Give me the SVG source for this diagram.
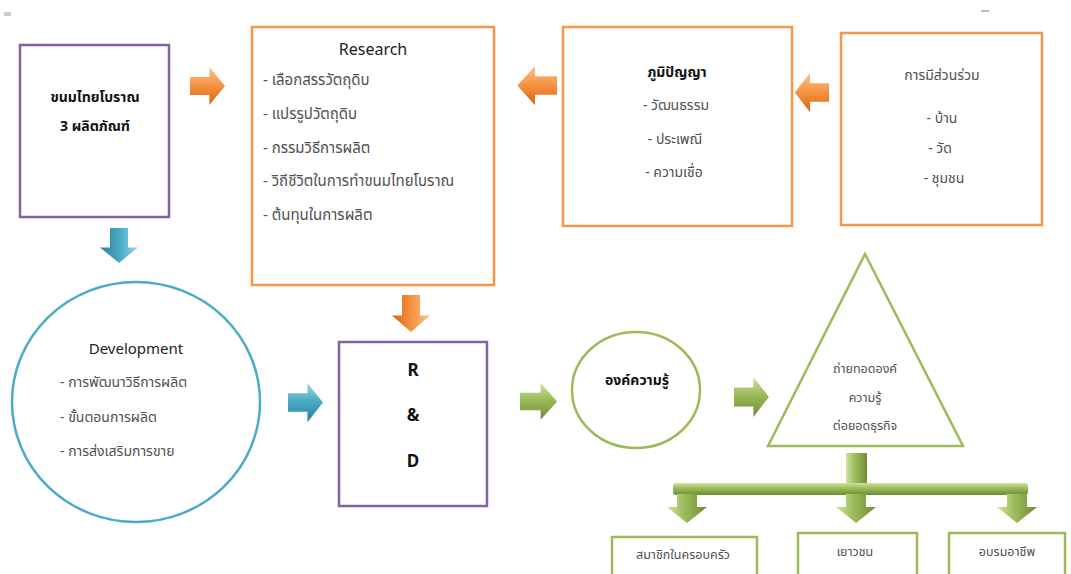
<svg xmlns="http://www.w3.org/2000/svg" width="1071" height="574" viewBox="0 0 1071 574">
<style>
.pb{fill:#fff;stroke:#8064A2;stroke-width:2.5}
.ob{fill:#fff;stroke:#F79646;stroke-width:2.5}
.bb{fill:#fff;stroke:#4BACC6;stroke-width:2.5}
.gb{fill:#fff;stroke:#9BBB59;stroke-width:2.5}
text{font-family:"Noto Sans","Noto Sans Thai","Liberation Sans",sans-serif}
.t{font-size:14px;fill:#111;font-weight:bold;text-anchor:middle}
.h{font-size:16px;fill:#222;text-anchor:middle}
.i{font-size:15px;fill:#505050}
.d{font-size:14px;fill:#505050}
.c{font-size:14px;fill:#505050;text-anchor:middle}
.s{font-size:12.5px;fill:#505050;text-anchor:middle}
.rd{font-size:17px;fill:#111;font-weight:bold;text-anchor:middle}
</style>
<defs>
<linearGradient id="gO" x1="0" y1="0" x2="0" y2="1"><stop offset="0" stop-color="#FBC38F"/><stop offset="0.45" stop-color="#F79646"/><stop offset="1" stop-color="#D9650A"/></linearGradient>
<linearGradient id="gB" x1="0" y1="0" x2="0" y2="1"><stop offset="0" stop-color="#9ED6E6"/><stop offset="0.45" stop-color="#4BACC6"/><stop offset="1" stop-color="#2E7F96"/></linearGradient>
<linearGradient id="gG" x1="0" y1="0" x2="0" y2="1"><stop offset="0" stop-color="#CFE29E"/><stop offset="0.45" stop-color="#9BBB59"/><stop offset="1" stop-color="#6F8C34"/></linearGradient>
<linearGradient id="gGh" x1="0" y1="0" x2="1" y2="0"><stop offset="0" stop-color="#CFE29E"/><stop offset="0.45" stop-color="#9BBB59"/><stop offset="1" stop-color="#6F8C34"/></linearGradient>
<path id="ar" d="M0,10 H20 V0 L36,19 L20,38 V28 H0 Z"/>
</defs>

<rect x="4" y="12" width="7" height="4" fill="#ccc"/>
<rect x="981" y="10" width="8" height="2" fill="#bbb"/>

<g id="node-khanom">
<rect class="pb" x="20" y="45" width="149" height="172"/>
<text class="t" x="95" y="102">ขนมไทยโบราณ</text>
<text class="t" x="95" y="131">3 ผลิตภัณฑ์</text>
</g>

<g id="node-research">
<rect class="ob" x="252" y="27" width="242" height="258"/>
<text class="h" x="373" y="55">Research</text>
<text class="i" x="263" y="85">- เลือกสรรวัตถุดิบ</text>
<text class="i" x="263" y="119">- แปรรูปวัตถุดิบ</text>
<text class="i" x="263" y="153">- กรรมวิธีการผลิต</text>
<text class="i" x="263" y="186">- วิถีชีวิตในการทำขนมไทยโบราณ</text>
<text class="i" x="263" y="220">- ต้นทุนในการผลิต</text>
</g>

<g id="node-wisdom">
<rect class="ob" x="563" y="27" width="229" height="199"/>
<text class="t" x="677" y="77">ภูมิปัญญา</text>
<text class="c" x="676" y="110">- วัฒนธรรม</text>
<text class="c" x="675" y="144">- ประเพณี</text>
<text class="c" x="674" y="177">- ความเชื่อ</text>
</g>

<g id="node-participation">
<rect class="ob" x="841" y="33" width="201" height="192"/>
<text class="c" x="942" y="80">การมีส่วนร่วม</text>
<text class="c" x="942" y="123">- บ้าน</text>
<text class="c" x="940" y="153">- วัด</text>
<text class="c" x="944" y="183">- ชุมชน</text>
</g>

<g id="node-development">
<ellipse class="bb" cx="136" cy="402" rx="124" ry="120"/>
<text class="h" x="136" y="354" style="font-size:15px">Development</text>
<text class="d" x="60" y="387">- การพัฒนาวิธีการผลิต</text>
<text class="d" x="60" y="422">-  ขั้นตอนการผลิต</text>
<text class="d" x="60" y="456">- การส่งเสริมการขาย</text>
</g>

<g id="node-rd">
<rect class="pb" x="339" y="342" width="148" height="164"/>
<text class="rd" x="413" y="376">R</text>
<text class="rd" x="413" y="421">&amp;</text>
<text class="rd" x="413" y="467">D</text>
</g>

<g id="node-knowledge">
<ellipse class="gb" cx="636" cy="390" rx="64" ry="58"/>
<text class="t" x="637" y="385">องค์ความรู้</text>
</g>

<g id="node-transfer">
<polygon class="gb" points="865,254 963,446 768,446"/>
<text class="s" x="865" y="373">ถ่ายทอดองค์</text>
<text class="s" x="865" y="402">ความรู้</text>
<text class="s" x="865" y="430">ต่อยอดธุรกิจ</text>
</g>

<g id="node-family">
<rect class="gb" x="612" y="537" width="145" height="45"/>
<text class="s" x="683" y="559">สมาชิกในครอบครัว</text>
</g>
<g id="node-youth">
<rect class="gb" x="798" y="533" width="119" height="49"/>
<text class="s" x="855" y="556">เยาวชน</text>
</g>
<g id="node-career">
<rect class="gb" x="949" y="533" width="116" height="49"/>
<text class="s" x="1007" y="556">อบรมอาชีพ</text>
</g>

<g id="connectors">
<use href="#ar" fill="url(#gO)" transform="translate(190,67) scale(0.97,1)"/>
<use href="#ar" fill="url(#gO)" transform="translate(557,66) scale(-1.1,1.03)"/>
<use href="#ar" fill="url(#gO)" transform="translate(829,73) scale(-0.95,1.03)"/>
<use href="#ar" fill="url(#gB)" transform="translate(138,228) rotate(90) scale(0.97,1)"/>
<use href="#ar" fill="url(#gO)" transform="translate(430,295) rotate(90) scale(1.03,1)"/>
<use href="#ar" fill="url(#gB)" transform="translate(288,383) scale(0.97,1.03)"/>
<use href="#ar" fill="url(#gG)" transform="translate(520,383) scale(1.03,0.97)"/>
<use href="#ar" fill="url(#gG)" transform="translate(734,377) scale(0.97,1.05)"/>
<rect x="846" y="453" width="21" height="34" fill="url(#gGh)"/>
<rect x="673" y="483" width="355" height="12" rx="3" fill="url(#gG)"/>
<path d="M677,494 H697 V507 H707 L687,523 L667,507 H677 Z" fill="url(#gGh)"/>
<path d="M846,494 H866 V507 H876 L856,523 L836,507 H846 Z" fill="url(#gGh)"/>
<path d="M1007,494 H1027 V507 H1037 L1017,523 L997,507 H1007 Z" fill="url(#gGh)"/>
</g>
</svg>
